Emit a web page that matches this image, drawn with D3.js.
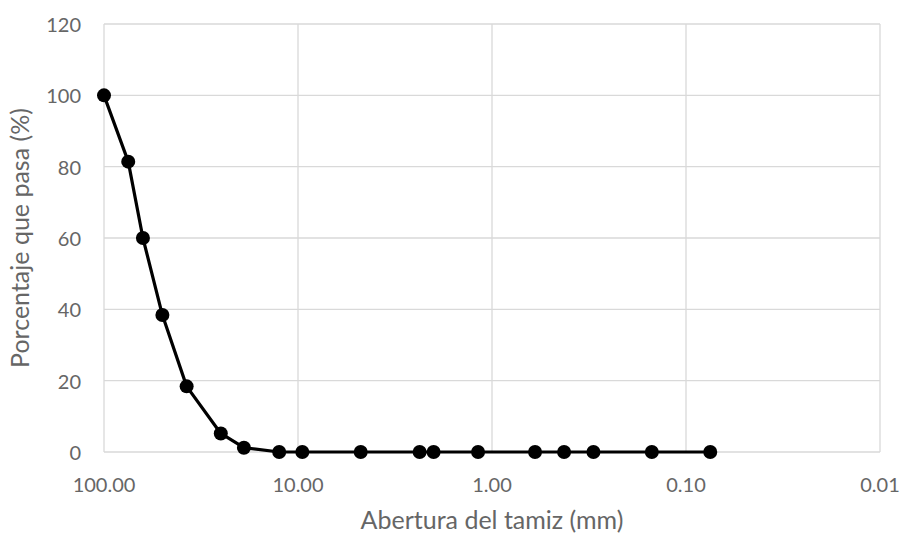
<!DOCTYPE html>
<html>
<head>
<meta charset="utf-8">
<script src="https://cdn.jsdelivr.net/npm/d3@7"></script>
<style>
  body { margin: 0; background: #fff; }
  text { font-family: Lato, "Open Sans", sans-serif; fill: #666; }
</style>
</head>
<body>
<div id="chart"></div>
<script>
// sieve openings (mm) and percent passing
const aperture = [100, 75, 63, 50, 37.5, 25, 19, 12.5, 9.5, 4.75, 2.36, 2.0, 1.18, 0.6, 0.425, 0.3, 0.15, 0.075];
const passing = [100, 81.4, 60, 38.4, 18.4, 5.2, 1.2, 0, 0, 0, 0, 0, 0, 0, 0, 0, 0, 0];
const xTicks = [100, 10, 1, 0.1, 0.01];
const yTicks = [0, 20, 40, 60, 80, 100, 120];
const xTitle = "Abertura del tamiz (mm)";
const yTitle = "Porcentaje que pasa (%)";

const width = 904, height = 536;
const margin = { top: 24, right: 24, bottom: 84, left: 104 };

const svg = d3.select("#chart").append("svg")
  .attr("width", width)
  .attr("height", height);

const x = d3.scaleLog()
  .domain([100, 0.01])
  .range([margin.left, width - margin.right]);

const y = d3.scaleLinear()
  .domain([0, 120])
  .range([height - margin.bottom, margin.top]);

// gridlines
svg.append("g")
  .selectAll("line")
  .data(yTicks)
  .join("line")
  .attr("x1", margin.left)
  .attr("x2", width - margin.right)
  .attr("y1", d => y(d))
  .attr("y2", d => y(d))
  .attr("stroke", "#d9d9d9")
  .attr("stroke-width", 1.3);

svg.append("g")
  .selectAll("line")
  .data(xTicks)
  .join("line")
  .attr("x1", d => x(d))
  .attr("x2", d => x(d))
  .attr("y1", margin.top)
  .attr("y2", height - margin.bottom)
  .attr("stroke", "#d9d9d9")
  .attr("stroke-width", 1.3);

// tick labels
svg.append("g")
  .selectAll("text")
  .data(yTicks)
  .join("text")
  .attr("x", margin.left - 23)
  .attr("y", d => y(d))
  .attr("text-anchor", "end")
  .attr("dominant-baseline", "central")
  .style("font-size", "20px")
  .text(d => d);

svg.append("g")
  .selectAll("text")
  .data(xTicks)
  .join("text")
  .attr("x", d => x(d))
  .attr("y", height - margin.bottom + 32)
  .attr("text-anchor", "middle")
  .attr("dominant-baseline", "central")
  .style("font-size", "20px")
  .text(d => d.toFixed(2));

// axis titles
svg.append("text")
  .attr("x", x(1))
  .attr("y", 529)
  .attr("text-anchor", "middle")
  .style("font-size", "25px")
  .text(xTitle);

svg.append("text")
  .attr("transform", `translate(29, ${y(60)}) rotate(-90)`)
  .attr("text-anchor", "middle")
  .style("font-size", "25px")
  .text(yTitle);

// data line + markers
const pts = aperture.map((a, i) => [a, passing[i]]);

svg.append("path")
  .datum(pts)
  .attr("fill", "none")
  .attr("stroke", "#000")
  .attr("stroke-width", 3.2)
  .attr("stroke-linejoin", "round")
  .attr("d", d3.line().x(d => x(d[0])).y(d => y(d[1])));

svg.append("g")
  .selectAll("circle")
  .data(pts)
  .join("circle")
  .attr("cx", d => x(d[0]))
  .attr("cy", d => y(d[1]))
  .attr("r", 7)
  .attr("fill", "#000");
</script>
</body>
</html>
